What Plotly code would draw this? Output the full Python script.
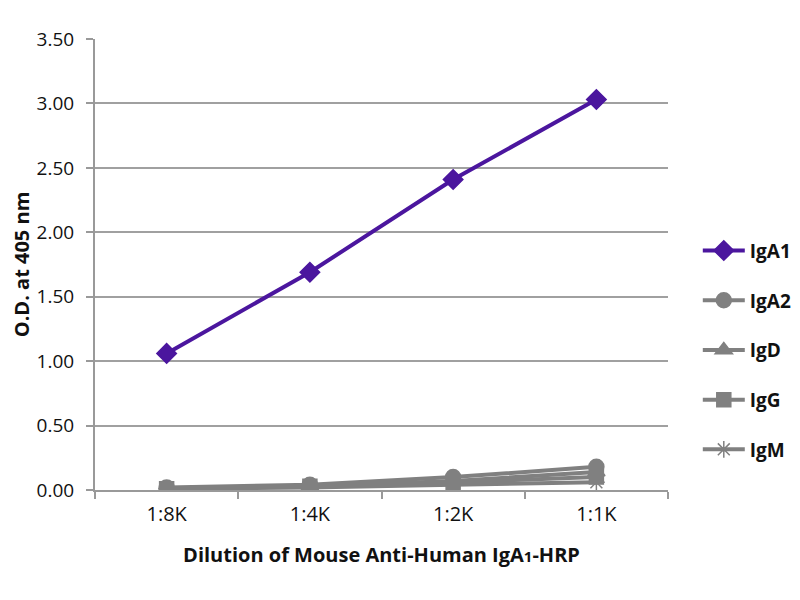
import plotly.graph_objects as go

categories = ["1:8K", "1:4K", "1:2K", "1:1K"]
iga1 = [1.06, 1.69, 2.41, 3.03]
iga2 = [0.02, 0.04, 0.10, 0.18]
igd = [0.01, 0.03, 0.07, 0.14]
igg = [0.01, 0.03, 0.06, 0.10]
igm = [0.01, 0.02, 0.04, 0.06]
y_ticks = [0, 0.5, 1.0, 1.5, 2.0, 2.5, 3.0, 3.5]

purple = "#4B169E"
gray = "#808080"

series = [
    ("IgA1", iga1, purple, "diamond", 15),
    ("IgA2", iga2, gray, "circle", 15),
    ("IgD", igd, gray, "triangle-up", 15),
    ("IgG", igg, gray, "square", 14),
    ("IgM", igm, gray, "asterisk-open", 14),
]

fig = go.Figure()
for name, vals, col, sym, sz in series:
    fig.add_trace(go.Scatter(
        x=categories, y=vals, name=name, mode="lines+markers",
        line=dict(color=col, width=4),
        marker=dict(symbol=sym, size=sz, color=col, line=dict(color=col, width=1.5)),
        legendgroup=name,
    ))

font = "Open Sans, Noto Sans, sans-serif"
fig.update_layout(
    width=784, height=584,
    paper_bgcolor="white", plot_bgcolor="white",
    margin=dict(l=87, r=124, t=31, b=102, autoexpand=False),
    font=dict(family=font, size=19, color="#111"),
    showlegend=True,
    legend=dict(
        x=1.052, xanchor="left", y=0.31, yanchor="middle",
        font=dict(size=19, family=font, color="#111", weight="bold"),
        tracegroupgap=22, itemwidth=42,
        bgcolor="rgba(0,0,0,0)",
    ),
    xaxis=dict(
        type="category", tickson="boundaries", ticks="outside", ticklen=7,
        tickcolor="#999", tickwidth=2, showline=True, linecolor="#999", linewidth=2,
        showgrid=False, tickfont=dict(size=20), ticklabelstandoff=5,
        title=dict(text="<b>Dilution of Mouse Anti-Human IgA<span style='font-size:15px'>1</span>-HRP</b>",
                   font=dict(size=20), standoff=22),
        range=[-0.5, 3.5],
    ),
    yaxis=dict(
        range=[0, 3.5], tickvals=y_ticks, tickformat=".2f",
        ticks="outside", ticklen=7, tickcolor="#999", tickwidth=2,
        showline=True, linecolor="#999", linewidth=2,
        showgrid=True, gridcolor="#a0a0a0", gridwidth=2,
        zeroline=False, tickfont=dict(size=19), ticklabelstandoff=8,
        title=dict(text="<b>O.D. at 405 nm</b>", font=dict(size=20), standoff=14),
    ),
)

fig.write_html("out.html")
